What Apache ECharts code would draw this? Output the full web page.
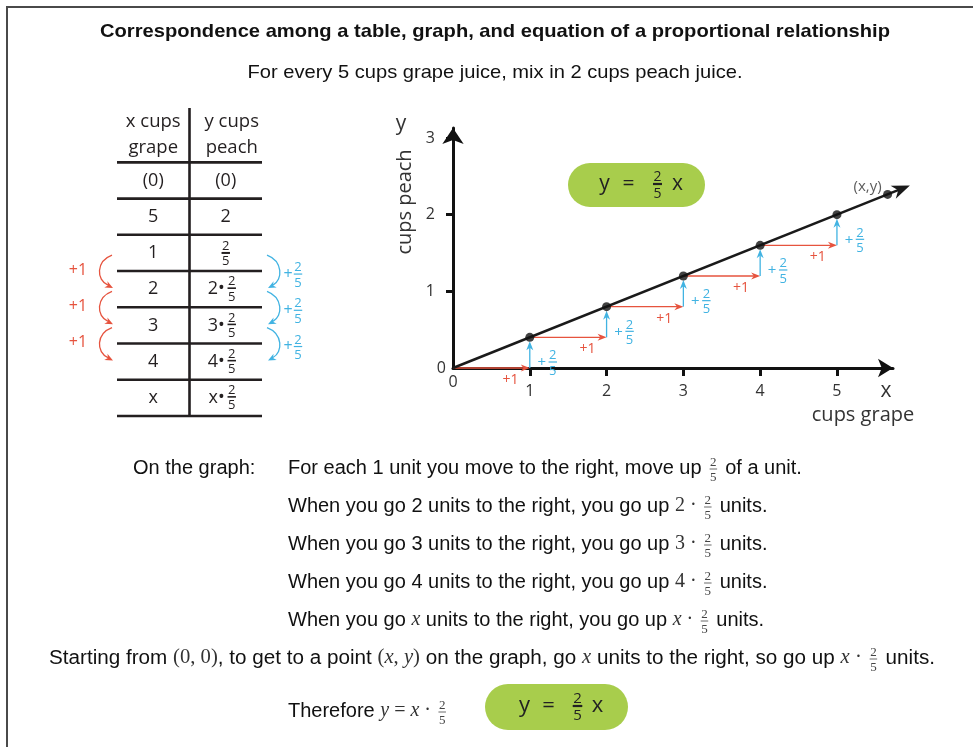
<!DOCTYPE html>
<html>
<head>
<meta charset="utf-8">
<script src="https://cdn.jsdelivr.net/npm/echarts@6/dist/echarts.min.js"></script>
<style>
html, body { margin: 0; padding: 0; background: #fff; }
#main { width: 973px; height: 747px; }
</style>
</head>
<body>
<div id="main"></div>
<script>
"use strict";
// ---- data ----
var xTicks = [0, 1, 2, 3, 4, 5];
var yTicks = [0, 1, 2, 3];
var xMax = 5.73, yMax = 3.13;          // where the axis arrows end
var pointX = [1, 2, 3, 4, 5];
var pointY = [0.4, 0.8, 1.2, 1.6, 2];
var origin = [0, 0];
var generalPoint = [5.66, 2.264];       // the (x,y) dot
var lineEnd = [5.95, 2.38];             // arrow tip of y = 2/5 x
var slopeFrac = ['2', '5'];

var tableHead = ['x cups\ngrape', 'y cups\npeach'];
var tableX = ['(0)', '5', '1', '2', '3', '4', 'x'];
var tableY = ['(0)', '2', '2/5', '2•2/5', '3•2/5', '4•2/5', 'x•2/5'];
var tableSteps = [2, 3, 4];             // rows joined by the +1 / +2/5 arrows

var title = 'Correspondence among a table, graph, and equation of a proportional relationship';
var subtitle = 'For every 5 cups grape juice, mix in 2 cups peach juice.';
var explainLead = 'On the graph:';
var explainLines = [
    [{t: 'For each 1 unit you move to the right, move up '}, {f: ['2', '5']}, {t: ' of a unit.'}],
    [{t: 'When you go 2 units to the right, you go up '}, {s: '2 · '}, {f: ['2', '5']}, {t: ' units.'}],
    [{t: 'When you go 3 units to the right, you go up '}, {s: '3 · '}, {f: ['2', '5']}, {t: ' units.'}],
    [{t: 'When you go 4 units to the right, you go up '}, {s: '4 · '}, {f: ['2', '5']}, {t: ' units.'}],
    [{t: 'When you go '}, {m: 'x'}, {t: ' units to the right, you go up '}, {m: 'x'}, {s: ' · '}, {f: ['2', '5']}, {t: ' units.'}]
];
var startLine = [{t: 'Starting from '}, {s: '(0, 0)'}, {t: ', to get to a point '}, {s: '('}, {m: 'x'}, {s: ', '}, {m: 'y'},
    {s: ')'}, {t: ' on the graph, go '}, {m: 'x'}, {t: ' units to the right, so go up '}, {m: 'x'}, {s: ' · '},
    {f: ['2', '5']}, {t: ' units.'}];
var thereLine = [{t: 'Therefore '}, {m: 'y'}, {s: ' = '}, {m: 'x'}, {s: ' · '}, {f: ['2', '5']}];

// ---- styles ----
var RED = '#e6533e', BLUE = '#41b3e2', INK = '#231f20', GREEN = '#a8cd4c';
var SANS = '"Liberation Sans", Arial, sans-serif';
var OPEN = '"Open Sans", sans-serif';
var SERIF = '"Liberation Serif", serif';

var ctx = document.createElement('canvas').getContext('2d');
function tw(s, font) { ctx.font = font; return ctx.measureText(s).width; }

function txt(x, y, s, font, color, align) {
    return {type: 'text', x: x, y: y, silent: true,
        style: {text: s, font: font, fill: color, align: align || 'center', verticalAlign: 'middle'}};
}
function seg(x1, y1, x2, y2, color, w) {
    return {type: 'line', silent: true, shape: {x1: x1, y1: y1, x2: x2, y2: y2}, style: {stroke: color, lineWidth: w || 1.3}};
}
function frac(cx, cy, n, d, size, color, bar, fam) {
    var f = size + 'px ' + (fam || OPEN);
    var w = Math.max(tw(n, f), tw(d, f)) + 1;
    return [
        txt(cx, cy - size * 0.5, n, f, color),
        seg(cx - w / 2, cy, cx + w / 2, cy, color, bar),
        txt(cx, cy + size * 0.68, d, f, color)
    ];
}
function head(tx, ty, ang, len, wid, color) {
    var ux = Math.cos(ang), uy = Math.sin(ang), nx = -uy, ny = ux;
    return {type: 'polygon', silent: true, shape: {points: [
        [tx, ty],
        [tx - len * ux + wid / 2 * nx, ty - len * uy + wid / 2 * ny],
        [tx - 0.7 * len * ux, ty - 0.7 * len * uy],
        [tx - len * ux - wid / 2 * nx, ty - len * uy - wid / 2 * ny]
    ]}, style: {fill: color}};
}

// a line of text with inline maths and small fractions
function richLine(parts, x, y, size, align, target) {
    var F = {t: size + 'px ' + SANS, s: size + 'px ' + SERIF, m: 'italic ' + size + 'px ' + SERIF};
    var fs = 13, ff = fs + 'px ' + SERIF;
    var items = parts.map(function (p) {
        if (p.f) return {p: p, w: Math.max(tw(p.f[0], ff), tw(p.f[1], ff)) + 6};
        var k = p.t != null ? 't' : (p.s != null ? 's' : 'm');
        return {p: p, k: k, w: tw(p[k], F[k])};
    });
    var total = 0;
    items.forEach(function (it) { total += it.w; });
    var sx = target ? target / total : 1;
    var cx = align === 'center' ? x - total * sx / 2 : x;
    var out = [];
    items.forEach(function (it) {
        var w = it.w * sx;
        if (it.p.f) {
            out = out.concat(frac(cx + w / 2, y + 1, it.p.f[0], it.p.f[1], fs, '#444', 0.8, SERIF));
        } else {
            var e = txt(cx, y, it.p[it.k], F[it.k], it.k === 't' ? '#111' : '#333', 'left');
            if (sx !== 1) e.scaleX = sx;
            out.push(e);
        }
        cx += w;
    });
    return out;
}

function fitted(x, y, s, font, color, target) {
    var e = txt(x, y, s, font, color);
    e.scaleX = target / tw(s, font);
    return e;
}

function pill(x, y, w, h, size, fsz, dy) {
    var cx = x + w / 2, cy = y + h / 2, f = size + 'px ' + OPEN;
    return [
        {type: 'rect', silent: true, shape: {x: x, y: y, width: w, height: h, r: h / 2}, style: {fill: GREEN}},
        txt(cx - 32, cy - 1, 'y', f, '#222'),
        txt(cx - 8, cy - 1, '=', f, '#222'),
        txt(cx + 41, cy - 1, 'x', f, '#222')
    ].concat(frac(cx + 21, cy + dy, slopeFrac[0], slopeFrac[1], fsz, '#222', 2.2));
}

// ---- fixed texts and shapes ----
var gfx = [];
gfx.push({type: 'polyline', silent: true, shape: {points: [[7, 747], [7, 7], [973, 7]]}, style: {stroke: '#4a4a4a', lineWidth: 2, fill: 'none'}});
gfx.push(fitted(495, 32, title, 'bold 19px ' + SANS, '#111', 790));
gfx.push(fitted(495, 73, subtitle, '18.5px ' + SANS, '#111', 495));
gfx.push(txt(401, 124, 'y', '21px ' + OPEN, '#333'));
var peach = txt(405, 202, 'cups peach', '20px ' + OPEN, '#333');
peach.rotation = Math.PI / 2;
gfx.push(peach);
gfx.push(txt(886, 391, 'x', '21px ' + OPEN, '#333'));
gfx.push(txt(863, 415, 'cups grape', '20px ' + OPEN, '#333'));
gfx = gfx.concat(pill(568, 163, 137, 44, 21, 14, -1));
gfx = gfx.concat(pill(485, 684, 143, 46, 22, 15, -1));
gfx.push(txt(133, 468, explainLead, '20px ' + SANS, '#111', 'left'));
explainLines.forEach(function (parts, k) {
    gfx = gfx.concat(richLine(parts, 288, 468 + 38 * k, 20, 'left'));
});
gfx = gfx.concat(richLine(startLine, 492, 658, 20, 'center', 886));
gfx = gfx.concat(richLine(thereLine, 288, 711, 20, 'left'));

// ---- series data built from the arrays ----
var stepData = pointX.map(function (x, i) {
    var px = i === 0 ? origin[0] : pointX[i - 1];
    var py = i === 0 ? origin[1] : pointY[i - 1];
    return [px, py, x, pointY[i]];
});
var dotData = pointX.map(function (x, i) { return [x, pointY[i]]; });
dotData.push({value: generalPoint, label: {show: true, formatter: '(x,y)', position: 'inside', offset: [-20, -8],
    fontFamily: OPEN, fontSize: 15, color: '#333'}});

function cellY(cx, cy, s) {
    var f = '18px ' + OPEN;
    var k = s.indexOf('/');
    if (k < 0) return [txt(cx, cy, s, f, INK)];
    var pre = s.slice(0, k - 1);
    if (!pre) return frac(cx, cy, s.charAt(k - 1), s.slice(k + 1), 13, INK, 2);
    return [txt(cx - 1, cy, pre, f, INK, 'right')].concat(frac(cx + 6, cy - 1, s.charAt(k - 1), s.slice(k + 1), 13, INK, 1.6));
}

var option = {
    animation: false,
    backgroundColor: '#fff',
    grid: [
        {left: 453, top: 128, width: 440, height: 240, outerBoundsMode: 'none'},
        {left: 117, top: 108, width: 145, height: 308, outerBoundsMode: 'none'}
    ],
    xAxis: [
        {
            type: 'value', gridIndex: 0, min: 0, max: xMax, interval: 1,
            axisLine: {show: true, onZero: false, symbol: ['none', 'arrow'], symbolSize: [14, 15], lineStyle: {color: '#111', width: 3}},
            axisTick: {show: true, customValues: xTicks.filter(function (v) { return v > 0; }), length: 8, lineStyle: {color: '#111', width: 3}},
            axisLabel: {
                customValues: xTicks, margin: 6,
                formatter: function (v) { return v === 0 ? '{z|0}' : '{n|' + v + '}'; },
                rich: {
                    z: {fontFamily: OPEN, fontSize: 16, color: '#333'},
                    n: {fontFamily: OPEN, fontSize: 16, color: '#333', padding: [9, 0, 0, 0]}
                }
            },
            splitLine: {show: false}
        },
        {type: 'value', gridIndex: 1, min: 0, max: 2, show: false}
    ],
    yAxis: [
        {
            type: 'value', gridIndex: 0, min: 0, max: yMax, interval: 1,
            axisLine: {show: true, onZero: false, symbol: ['none', 'arrow'], symbolSize: [16, 16], lineStyle: {color: '#111', width: 3}},
            axisTick: {show: true, customValues: yTicks.filter(function (v) { return v > 0; }), length: 7, lineStyle: {color: '#111', width: 3}},
            axisLabel: {
                customValues: yTicks, margin: 7,
                formatter: function (v) { return v === 0 ? '{z|0}' : '{n|' + v + '}'; },
                rich: {
                    z: {fontFamily: OPEN, fontSize: 16, color: '#333'},
                    n: {fontFamily: OPEN, fontSize: 16, color: '#333', padding: [0, 11, 0, 0]}
                }
            },
            splitLine: {show: false}
        },
        {type: 'value', gridIndex: 1, min: -1.5, max: tableX.length, inverse: true, show: false}
    ],
    graphic: {elements: gfx},
    series: [
        {   // +1 / +2/5 staircase
            type: 'custom', xAxisIndex: 0, yAxisIndex: 0, z: 2, silent: true,
            data: stepData,
            renderItem: function (params, api) {
                var a = api.coord([api.value(0), api.value(1)]);
                var b = api.coord([api.value(2), api.value(1)]);
                var c = api.coord([api.value(2), api.value(3)]);
                var kids = [
                    seg(a[0], a[1], b[0] - 6, b[1], RED),
                    head(b[0], b[1], 0, 9, 7, RED),
                    seg(b[0], b[1], c[0], c[1] + 10, BLUE),
                    head(c[0], c[1] + 4, -Math.PI / 2, 9, 7, BLUE),
                    txt(a[0] + (b[0] - a[0]) * 0.75, b[1] + 12, '+1', '14px ' + OPEN, RED),
                    txt(b[0] + 12, b[1] - 5, '+', '15px ' + OPEN, BLUE)
                ].concat(frac(b[0] + 23, b[1] - 6, slopeFrac[0], slopeFrac[1], 13, BLUE, 1.2));
                return {type: 'group', children: kids};
            }
        },
        {   // y = 2/5 x with arrow
            type: 'custom', xAxisIndex: 0, yAxisIndex: 0, z: 3, silent: true,
            data: [[origin[0], origin[1], lineEnd[0], lineEnd[1]]],
            renderItem: function (params, api) {
                var a = api.coord([api.value(0), api.value(1)]);
                var b = api.coord([api.value(2), api.value(3)]);
                var ang = Math.atan2(b[1] - a[1], b[0] - a[0]);
                return {type: 'group', children: [
                    seg(a[0], a[1], b[0] - 12 * Math.cos(ang), b[1] - 12 * Math.sin(ang), '#1a1a1a', 2.5),
                    head(b[0], b[1], ang, 18, 14, '#1a1a1a')
                ]};
            }
        },
        {
            type: 'scatter', xAxisIndex: 0, yAxisIndex: 0, z: 4, silent: true,
            symbolSize: 9, itemStyle: {color: '#111'},
            data: dotData
        },
        {   // table
            type: 'custom', xAxisIndex: 1, yAxisIndex: 1, z: 2, silent: true,
            data: tableX.map(function (v, i) { return [1, i]; }),
            renderItem: function (params, api) {
                var i = api.value(1);
                var L = api.coord([0, i + 1]), R = api.coord([2, i + 1]);
                var c1 = api.coord([0.5, i + 0.5]), c2 = api.coord([1.5, i + 0.5]);
                var kids = [seg(L[0], L[1], R[0], R[1], INK, 2.6), txt(c1[0], c1[1], tableX[i], '18px ' + OPEN, INK)];
                kids = kids.concat(cellY(c2[0], c2[1], tableY[i]));
                if (i === 0) {
                    var t0 = api.coord([0, 0]), t1 = api.coord([2, 0]);
                    var d0 = api.coord([1, -1.5]), d1 = api.coord([1, tableX.length]);
                    var h1 = api.coord([0.5, -0.75]), h2 = api.coord([1.5, -0.75]);
                    kids.push(seg(t0[0], t0[1], t1[0], t1[1], INK, 2.6));
                    kids.push(seg(d0[0], d0[1], d1[0], d1[1], INK, 2.6));
                    [h1, h2].forEach(function (h, j) {
                        var e = txt(h[0] + j * 6, h[1], tableHead[j], '18.5px ' + OPEN, INK);
                        e.style.lineHeight = 26;
                        kids.push(e);
                    });
                }
                return {type: 'group', children: kids};
            }
        },
        {   // +1 and +2/5 arrows beside the table
            type: 'custom', xAxisIndex: 1, yAxisIndex: 1, z: 2, silent: true,
            data: tableSteps.map(function (r) { return [1, r]; }),
            renderItem: function (params, api) {
                var i = api.value(1);
                var l = api.coord([0, i + 1]), r = api.coord([2, i + 1]);
                var xl = l[0], xr = r[0], y = l[1];
                var kids = [
                    {type: 'bezierCurve', silent: true, shape: {x1: xl - 5, y1: y - 16, cpx1: xl - 21, cpy1: y - 10, cpx2: xl - 21, cpy2: y + 9, x2: xl - 9, y2: y + 14},
                        style: {stroke: RED, lineWidth: 1.3, fill: 'none'}},
                    head(xl - 4, y + 17, Math.atan2(7, 14), 8, 7, RED),
                    txt(xl - 39, y - 1, '+1', '16px ' + OPEN, RED),
                    {type: 'bezierCurve', silent: true, shape: {x1: xr + 5, y1: y - 16, cpx1: xr + 21, cpy1: y - 10, cpx2: xr + 21, cpy2: y + 9, x2: xr + 11, y2: y + 14},
                        style: {stroke: BLUE, lineWidth: 1.3, fill: 'none'}},
                    head(xr + 6, y + 17, Math.atan2(7, -14), 8, 7, BLUE),
                    txt(xr + 26, y + 3, '+', '16px ' + OPEN, BLUE)
                ].concat(frac(xr + 36, y + 3, slopeFrac[0], slopeFrac[1], 13, BLUE, 1.2));
                return {type: 'group', children: kids};
            }
        }
    ]
};

var myChart = echarts.init(document.getElementById('main'));
myChart.setOption(option);
</script>
</body>
</html>
